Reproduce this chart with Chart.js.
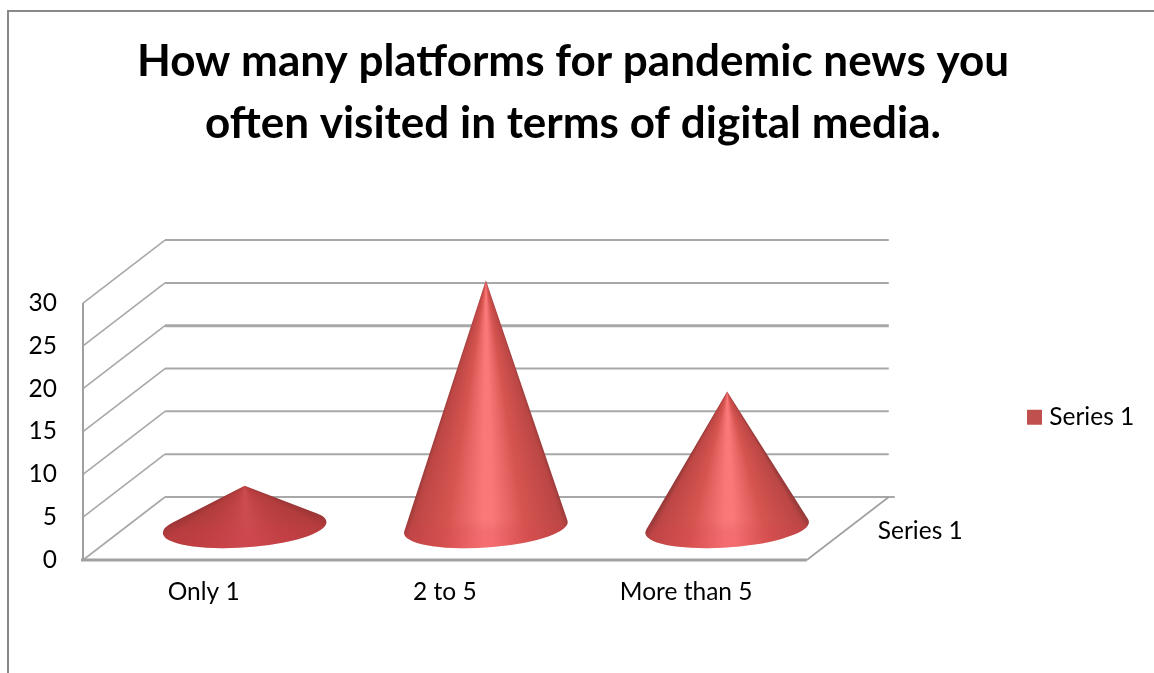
<!DOCTYPE html>
<html>
<head>
<meta charset="utf-8">
<title>Pandemic news platforms</title>
<script src="https://cdn.jsdelivr.net/npm/chart.js@4/dist/chart.umd.min.js"></script>
<style>
    html, body { margin: 0; padding: 0; background: #fff; }
    canvas { display: block; }
</style>
</head>
<body>
<canvas id="coneChart" width="1154" height="673"></canvas>
<script>
const categories = ["Only 1", "2 to 5", "More than 5"];
const seriesName = "Series 1";
const seriesValues = [5, 29, 16];
const titleLines = ["How many platforms for pandemic news you", "often visited in terms of digital media."];

const fontFamily = "Lato, 'Open Sans', sans-serif";
const labelSize = 24.5;
const lineColor = "#a8a8a8";
const depthX = 82;
const depthY = 63;

function mix(a, b, t) {
    return "rgb(" + a.map((v, i) => Math.round(v + (b[i] - v) * t)).join(",") + ")";
}

function drawCone(ctx, bar) {
    const cx = bar.x + depthX / 2;
    const apexY = bar.y - depthY / 2;
    const baseY = bar.base - depthY / 2 - 1;
    const rx = bar.width / 2;
    const ry = 20;
    const tilt = 4 * Math.PI / 180;
    const cos = Math.cos(tilt), sin = Math.sin(tilt);
    // flat cones have less highlight than tall ones
    const t = Math.max(0, Math.min(1, (baseY - apexY - 40) / 90));

    // tangent points from the apex onto the tilted base ellipse
    const dy = apexY - baseY;
    const u = -dy * sin / rx;
    const v = dy * cos / ry;
    const alpha = Math.atan2(v, u);
    const spread = Math.acos(1 / Math.hypot(u, v));
    const rightPhi = alpha + spread;
    const leftPhi = alpha - spread + 2 * Math.PI;
    const pointAt = phi => ({
        x: cx + rx * Math.cos(phi) * cos + ry * Math.sin(phi) * sin,
        y: baseY - rx * Math.cos(phi) * sin + ry * Math.sin(phi) * cos
    });
    const right = pointAt(rightPhi);
    const left = pointAt(leftPhi);
    const rightAngle = Math.atan2(right.y - apexY, right.x - cx);
    const leftAngle = Math.atan2(left.y - apexY, left.x - cx);

    // shade by angle round the apex, stops squeezed into the cone's span
    const start = rightAngle - 0.02;
    const k = (leftAngle - rightAngle + 0.04) / (2 * Math.PI);
    const conic = ctx.createConicGradient(start, cx, apexY);
    const stops = [
        [0, mix([150, 52, 52], [128, 50, 50], t)],
        [0.06, mix([178, 60, 60], [186, 70, 68], t)],
        [0.28, mix([192, 66, 68], [214, 84, 80], t)],
        [0.47, mix([202, 74, 78], [250, 120, 120], t)],
        [0.53, mix([202, 74, 78], [250, 120, 120], t)],
        [0.74, mix([192, 66, 68], [214, 84, 80], t)],
        [0.94, mix([178, 60, 60], [188, 70, 68], t)],
        [1, mix([150, 52, 52], [128, 50, 50], t)]
    ];
    stops.forEach(s => conic.addColorStop(s[0] * k, s[1]));

    ctx.save();
    ctx.beginPath();
    ctx.moveTo(cx, apexY);
    ctx.lineTo(right.x, right.y);
    ctx.ellipse(cx, baseY, rx, ry, -tilt, rightPhi, leftPhi);
    ctx.closePath();
    ctx.fillStyle = conic;
    ctx.fill();
    ctx.clip();

    // soft redder band round the front of the base
    const band = ctx.createLinearGradient(0, baseY - 8, 0, baseY + 4);
    band.addColorStop(0, "rgba(214, 60, 76, 0)");
    band.addColorStop(1, "rgba(214, 60, 76, 0.18)");
    ctx.fillStyle = band;
    ctx.fillRect(cx - rx - 2, baseY - 8, 2 * rx + 4, 40);
    ctx.restore();
}

const conePlugin = {
    id: "cone3d",
    beforeDraw(chart) {
        const ctx = chart.ctx;
        ctx.save();
        ctx.fillStyle = "#ffffff";
        ctx.fillRect(0, 0, chart.width, chart.height);
        // outer frame, only the top and left show
        ctx.strokeStyle = "#888888";
        ctx.lineWidth = 2;
        ctx.beginPath();
        ctx.moveTo(8, chart.height);
        ctx.lineTo(8, 11);
        ctx.lineTo(chart.width, 11);
        ctx.stroke();
        ctx.restore();
    },
    afterLayout(chart) {
        // legend sits away from the plot, title is centred on the whole page
        const lg = chart.legend;
        lg.left = 1022;
        lg.right = lg.left + lg.width;
        lg.top = 395;
        lg.bottom = lg.top + lg.height;
        chart.titleBlock.left = 0;
        chart.titleBlock.right = 1146;
    },
    beforeDatasetsDraw(chart) {
        const ctx = chart.ctx;
        const xs = chart.scales.x;
        const ys = chart.scales.y;
        ctx.save();
        ctx.lineCap = "butt";
        ys.ticks.forEach(tick => {
            const y = ys.getPixelForValue(tick.value);
            const isFloor = tick.value === 0;
            ctx.strokeStyle = lineColor;
            ctx.lineWidth = 1.6;
            ctx.beginPath();
            ctx.moveTo(xs.left, y);
            ctx.lineTo(xs.left + depthX, y - depthY);
            ctx.stroke();
            ctx.lineWidth = tick.value === 20 ? 3 : 2;
            ctx.beginPath();
            ctx.moveTo(xs.left + depthX, y - depthY);
            ctx.lineTo(xs.right + depthX + (isFloor ? 6 : 0), y - depthY);
            ctx.stroke();
        });
        // left edge, front floor edge and right floor edge
        ctx.strokeStyle = "#a0a0a0";
        ctx.lineWidth = 2;
        ctx.beginPath();
        ctx.moveTo(xs.left, ys.top);
        ctx.lineTo(xs.left, ys.bottom);
        ctx.stroke();
        ctx.lineWidth = 3;
        ctx.beginPath();
        ctx.moveTo(xs.left - 2, ys.bottom);
        ctx.lineTo(xs.right, ys.bottom);
        ctx.stroke();
        ctx.lineWidth = 1.6;
        ctx.beginPath();
        ctx.moveTo(xs.right, ys.bottom);
        ctx.lineTo(xs.right + depthX, ys.bottom - depthY);
        ctx.stroke();
        // depth axis label
        ctx.fillStyle = "#000000";
        ctx.font = labelSize + "px " + fontFamily;
        ctx.textAlign = "left";
        ctx.textBaseline = "middle";
        ctx.fillText(seriesName, xs.right + 71, ys.bottom - 29);
        ctx.restore();
    },
    beforeDatasetDraw(chart, args) {
        // cones replace the flat bars
        args.meta.data.forEach(bar => drawCone(chart.ctx, bar));
        return false;
    }
};

new Chart(document.getElementById("coneChart"), {
    type: "bar",
    data: {
        labels: categories,
        datasets: [{
            label: seriesName,
            data: seriesValues,
            backgroundColor: "#c0504d",
            borderColor: "#c0504d",
            borderWidth: 10, // makes the small legend box square up to 15px
            categoryPercentage: 1,
            barPercentage: 0.68
        }]
    },
    options: {
        responsive: false,
        animation: false,
        layout: { padding: { left: 0, top: 0, right: 225, bottom: 0 } },
        plugins: {
            title: {
                display: true,
                text: titleLines,
                color: "#000000",
                font: { family: fontFamily, size: 44, weight: "bold", lineHeight: 1.41 },
                padding: { top: 31, bottom: 148 }
            },
            legend: {
                position: "right",
                align: "start",
                labels: {
                    boxWidth: 5,
                    boxHeight: 5,
                    color: "#000000",
                    font: { family: fontFamily, size: labelSize }
                }
            },
            tooltip: { enabled: false }
        },
        scales: {
            x: {
                grid: { display: false },
                border: { display: false },
                ticks: { color: "#000000", font: { family: fontFamily, size: labelSize }, padding: 9, maxRotation: 0 },
                afterFit(scale) { scale.height = 113; }
            },
            y: {
                min: 0,
                max: 30,
                grid: { display: false },
                border: { display: false },
                ticks: { stepSize: 5, color: "#000000", font: { family: fontFamily, size: labelSize }, padding: 18 },
                afterFit(scale) { scale.width = 83; }
            }
        }
    },
    plugins: [conePlugin]
});
</script>
</body>
</html>
